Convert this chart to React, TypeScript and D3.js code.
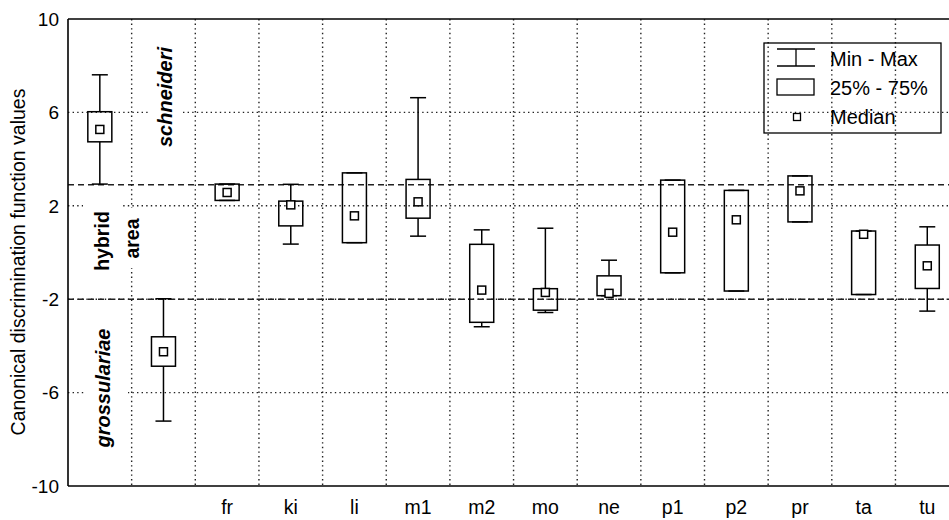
import React from "react";
import * as d3 from "d3";

const groups = ["schneideri", "grossulariae", "fr", "ki", "li", "m1", "m2", "mo", "ne", "p1", "p2", "pr", "ta", "tu"];
const tickLabels = ["", "", "fr", "ki", "li", "m1", "m2", "mo", "ne", "p1", "p2", "pr", "ta", "tu"];
const mins = [2.93, -7.22, 2.23, 0.36, 0.42, 0.7, -3.18, -2.57, -1.85, -0.87, -1.65, 1.31, -1.8, -2.51];
const q1s = [4.74, -4.87, 2.23, 1.14, 0.42, 1.47, -2.99, -2.47, -1.85, -0.87, -1.65, 1.31, -1.8, -1.54];
const medians = [5.27, -4.25, 2.57, 2.04, 1.57, 2.17, -1.61, -1.71, -1.75, 0.87, 1.4, 2.64, 0.78, -0.57];
const q3s = [6.03, -3.61, 2.93, 2.2, 3.41, 3.13, 0.35, -1.55, -1.0, 3.1, 2.66, 3.28, 0.92, 0.32];
const maxs = [7.61, -1.98, 2.93, 2.92, 3.41, 6.63, 0.97, 1.04, -0.33, 3.1, 2.66, 3.28, 0.92, 1.1];
const yTicks = [10, 6, 2, -2, -6, -10];
const gridY = [6, 2, -2, -6];
const thresholds = [2.9, -2];
const legendItems = ["Min - Max", "25% - 75%", "Median"];

const W = 949;
const H = 520;
const left = 68;
const top = 19;
const bottom = 486;
const step = 63.65;
const FONT = "'Liberation Sans', Arial, Helvetica, sans-serif";

export default function App() {
  const x = d3.scaleBand<string>().domain(groups).range([left, left + step * groups.length]).padding(0);
  const y = d3.scaleLinear().domain([-10, 10]).range([bottom, top]);
  const bw = 24;
  const cap = 16;
  const med = 8;
  const cx = (g: string) => (x(g) as number) + x.bandwidth() / 2;
  const dotted = { stroke: "#222", strokeWidth: 1.4, strokeDasharray: "1.4 3.2" };

  return (
    <svg width={W} height={H} style={{ position: "absolute", left: 0, top: 0, background: "#fff" }} fontFamily={FONT}>
      <rect x={0} y={0} width={W} height={H} fill="#fff" />
      {/* vertical grid */}
      {groups.slice(1).map((g) => (
        <line key={"vg" + g} x1={x(g)} x2={x(g)} y1={top} y2={bottom} {...dotted} />
      ))}
      {/* horizontal grid */}
      {gridY.map((v) => (
        <line key={"hg" + v} x1={left} x2={W} y1={y(v)} y2={y(v)} {...dotted} />
      ))}
      {/* threshold dashed lines */}
      {thresholds.map((v) => (
        <line key={"th" + v} x1={left} x2={W} y1={y(v)} y2={y(v)} stroke="#222" strokeWidth={1.5} strokeDasharray="6 4" />
      ))}

      {/* zone labels with white backgrounds */}
      <rect x={150} y={40} width={30} height={114} fill="#fff" />
      <rect x={83} y={198} width={37} height={82} fill="#fff" />
      <rect x={120} y={208} width={22} height={60} fill="#fff" />
      <rect x={86} y={320} width={42} height={135} fill="#fff" />
      <text transform={`translate(172,97) rotate(-90)`} textAnchor="middle" fontSize={20} fontWeight="bold" fontStyle="italic">schneideri</text>
      <text transform={`translate(109,241) rotate(-90)`} textAnchor="middle" fontSize={19.5} fontWeight="bold">hybrid</text>
      <text transform={`translate(139,238.5) rotate(-90)`} textAnchor="middle" fontSize={19.5} fontWeight="bold">area</text>
      <text transform={`translate(110,388) rotate(-90)`} textAnchor="middle" fontSize={20} fontWeight="bold" fontStyle="italic">grossulariae</text>

      {/* axes frame */}
      <line x1={left} x2={left} y1={top} y2={bottom} stroke="#000" strokeWidth={1.6} />
      <line x1={left} x2={W} y1={top} y2={top} stroke="#000" strokeWidth={1.6} />
      <line x1={left} x2={W} y1={bottom} y2={bottom} stroke="#000" strokeWidth={1.6} />

      {/* y tick labels */}
      {yTicks.map((v) => (
        <text key={"yt" + v} x={59} y={y(v)} dy="0.36em" textAnchor="end" fontSize={19}>{v}</text>
      ))}
      <text transform={`translate(25,262) rotate(-90)`} textAnchor="middle" fontSize={19.5}>Canonical discrimination function values</text>

      {/* x labels */}
      {groups.map((g, i) => (
        <text key={"xl" + g} x={cx(g)} y={514} textAnchor="middle" fontSize={19.5}>{tickLabels[i]}</text>
      ))}

      {/* boxes */}
      {groups.map((g, i) => {
        const c = cx(g);
        return (
          <g key={"b" + g} stroke="#000" strokeWidth={1.5} fill="none">
            <line x1={c} x2={c} y1={y(maxs[i])} y2={y(q3s[i])} />
            <line x1={c} x2={c} y1={y(q1s[i])} y2={y(mins[i])} />
            <line x1={c - cap / 2} x2={c + cap / 2} y1={y(maxs[i])} y2={y(maxs[i])} />
            <line x1={c - cap / 2} x2={c + cap / 2} y1={y(mins[i])} y2={y(mins[i])} />
            <rect x={c - bw / 2} y={y(q3s[i])} width={bw} height={Math.max(0, y(q1s[i]) - y(q3s[i]))} />
            <rect x={c - med / 2} y={y(medians[i]) - med / 2} width={med} height={med} fill="#fff" />
          </g>
        );
      })}

      {/* legend */}
      <g stroke="#000" fill="none" strokeWidth={1.3}>
        <rect x={764} y={43} width={177} height={90} />
        <line x1={796} x2={796} y1={49} y2={66} />
        <line x1={777} x2={815} y1={49} y2={49} />
        <line x1={777} x2={815} y1={66} y2={66} />
        <rect x={777} y={79} width={37} height={16} />
        <rect x={793.5} y={113.5} width={7} height={7} fill="#fff" />
      </g>
      {legendItems.map((t, i) => (
        <text key={"lg" + t} x={830} y={[66, 95, 124][i]} fontSize={20}>{t}</text>
      ))}
    </svg>
  );
}
